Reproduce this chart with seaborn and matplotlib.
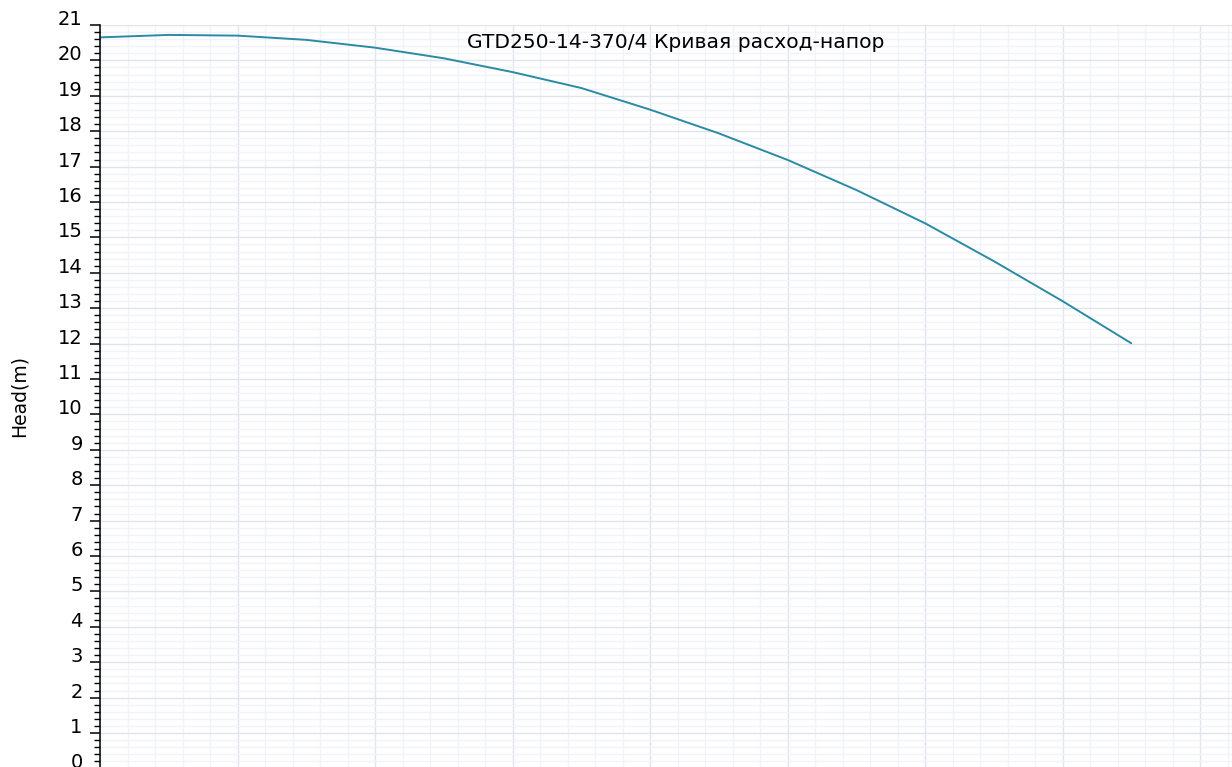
import matplotlib
matplotlib.use("Agg")
import matplotlib.pyplot as plt
from matplotlib.ticker import MultipleLocator, NullFormatter
import seaborn as sns
import pandas as pd

# Data
flow = [0, 20, 40, 60, 80, 100, 120, 140, 160, 180, 200, 220, 240, 260, 280, 300]
head = [20.65, 20.72, 20.70, 20.58, 20.36, 20.06, 19.67, 19.22, 18.61, 17.94,
        17.19, 16.34, 15.40, 14.33, 13.20, 12.01]
y_ticks = list(range(0, 22))
title = "GTD250-14-370/4 Кривая расход-напор"
y_label = "Head(m)"

sns.set_style("white")
plt.rcParams["font.family"] = ["DejaVu Sans"]
plt.rcParams["text.color"] = "black"
plt.rcParams["ytick.labelcolor"] = "black"
plt.rcParams["ytick.color"] = "black"

W, H = 1232, 767
fig = plt.figure(figsize=(W / 100, H / 100), dpi=100)
left_px, top_px, bottom_px = 100, 25, 768.4
x_max = 330
right_px = left_px + x_max * 137.5 / 40
ax = fig.add_axes([left_px / W, 1 - bottom_px / H,
                   (right_px - left_px) / W, (bottom_px - top_px) / H])

df = pd.DataFrame({"flow": flow, "head": head})
sns.lineplot(data=df, x="flow", y="head", ax=ax, color="#2a8ba3",
             linewidth=1.4, legend=False)

ax.set_xlim(0, x_max)
ax.set_ylim(0, 21)
ax.xaxis.set_major_locator(MultipleLocator(40))
ax.xaxis.set_minor_locator(MultipleLocator(8))
ax.set_yticks(y_ticks)
ax.yaxis.set_minor_locator(MultipleLocator(0.2))
ax.xaxis.set_major_formatter(NullFormatter())

ax.grid(which="major", color="#dfe4ef", linewidth=1.0)
ax.grid(which="minor", color="#f0f3fa", linewidth=1.0)
ax.set_axisbelow(True)

for s in ["top", "right", "bottom"]:
    ax.spines[s].set_visible(False)
ax.spines["left"].set_color("black")
ax.spines["left"].set_linewidth(1.1)

ax.tick_params(axis="y", which="major", length=7.5, width=1.1, color="black",
               labelsize=14, labelcolor="black", pad=5, left=True)
ax.tick_params(axis="y", which="minor", length=4.3, width=1.0, color="black", left=True)
ax.tick_params(axis="x", which="both", length=0)
for lab in ax.get_yticklabels():
    lab.set_verticalalignment("baseline")

ax.set_xlabel("")
ax.set_ylabel("")
fig.text(19 / W, 1 - 396 / H, y_label, rotation=90, ha="center", va="center",
         fontsize=13.5, color="black")
fig.text(676 / W, 1 - 42 / H, title, ha="center", va="center", fontsize=14.6,
         color="black")

fig.savefig("out.png", dpi=100)
